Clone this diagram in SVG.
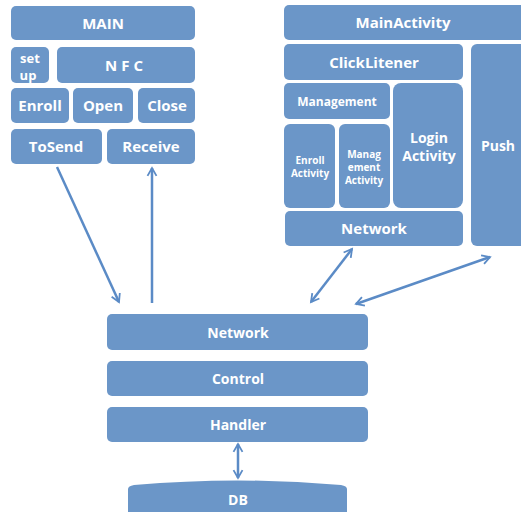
<svg xmlns="http://www.w3.org/2000/svg" width="521" height="512" viewBox="0 0 521 512">
<style>
.b{fill:#6b96c8}
.t{fill:#fff;font-family:"Open Sans","Noto Sans",sans-serif;font-weight:bold;text-anchor:middle;font-size:15px}
.s{font-size:12px}
.xs{font-size:10px}
.c{stroke:#5b8bc6;stroke-width:2.5;fill:none}
</style>
<defs>
<marker id="ah" viewBox="0 0 10 10" refX="8" refY="5" markerWidth="4.5" markerHeight="4.5" orient="auto-start-reverse" markerUnits="strokeWidth">
<path d="M1,1 L8,5 L1,9" fill="none" stroke="#5b8bc6" stroke-width="1.6"/>
</marker>
</defs>
<rect width="521" height="512" fill="#fff"/>
<g id="main"><rect class="b" x="11" y="6" width="184" height="34" rx="5"/><text class="t" x="103" y="29">MAIN</text></g>
<g id="setup"><rect class="b" x="11" y="47" width="38" height="36" rx="5"/><text class="t" x="30" y="63" style="font-size:13px">set</text><text class="t" x="28" y="80" style="font-size:13px">up</text></g>
<g id="nfc"><rect class="b" x="57" y="47" width="138" height="36" rx="5"/><text class="t" x="126" y="71" letter-spacing="4">NFC</text></g>
<g id="enroll"><rect class="b" x="11" y="88" width="58" height="35" rx="5"/><text class="t" x="40" y="111">Enroll</text></g>
<g id="open"><rect class="b" x="73" y="88" width="60" height="35" rx="5"/><text class="t" x="103" y="111">Open</text></g>
<g id="close"><rect class="b" x="138" y="88" width="57" height="35" rx="5"/><text class="t" x="167" y="111">Close</text></g>
<g id="tosend"><rect class="b" x="11" y="129" width="91" height="35" rx="5"/><text class="t" x="56" y="152">ToSend</text></g>
<g id="receive"><rect class="b" x="107" y="129" width="88" height="35" rx="5"/><text class="t" x="151" y="152">Receive</text></g>

<g id="mainactivity"><rect class="b" x="284" y="5" width="245" height="35" rx="5"/><text class="t" x="403" y="28">MainActivity</text></g>
<g id="clicklitener"><rect class="b" x="284" y="44" width="179" height="36" rx="5"/><text class="t" x="374" y="68">ClickLitener</text></g>
<g id="push"><rect class="b" x="471" y="44" width="58" height="202" rx="6"/><text class="t" x="498" y="151" style="font-size:14px">Push</text></g>
<g id="management"><rect class="b" x="284" y="83" width="106" height="36" rx="5"/><text class="t s" x="337" y="106">Management</text></g>
<g id="login"><rect class="b" x="393" y="83" width="70" height="125" rx="8"/><text class="t" x="429" y="143" style="font-size:14px">Login</text><text class="t" x="429" y="161" style="font-size:14px">Activity</text></g>
<g id="enrollact"><rect class="b" x="284" y="124" width="51" height="84" rx="6"/><text class="t xs" x="310" y="164">Enroll</text><text class="t xs" x="310" y="177">Activity</text></g>
<g id="mgmtact"><rect class="b" x="339" y="124" width="51" height="84" rx="6"/><text class="t xs" x="364" y="158">Manag</text><text class="t xs" x="364" y="171">ement</text><text class="t xs" x="364" y="184">Activity</text></g>
<g id="network2"><rect class="b" x="285" y="211" width="178" height="35" rx="5"/><text class="t" x="374" y="234">Network</text></g>

<g id="network"><rect class="b" x="107" y="314" width="261" height="36" rx="5"/><text class="t" x="238" y="338" style="font-size:14px">Network</text></g>
<g id="control"><rect class="b" x="107" y="361" width="261" height="35" rx="5"/><text class="t" x="238" y="384" style="font-size:14px">Control</text></g>
<g id="handler"><rect class="b" x="107" y="407" width="261" height="35" rx="5"/><text class="t" x="238" y="430" style="font-size:14px">Handler</text></g>
<g id="db"><path class="b" d="M128,512 L128,489 Q128,486 134,485 Q238,476 341,485 Q347,486 347,489 L347,512 Z"/><text class="t" x="238" y="505" style="font-size:14px">DB</text></g>

<g id="connectors">
<line class="c" x1="57" y1="167" x2="119" y2="302" marker-end="url(#ah)"/>
<line class="c" x1="152" y1="303" x2="152" y2="168" marker-end="url(#ah)"/>
<line class="c" x1="352" y1="249" x2="311" y2="302" marker-start="url(#ah)" marker-end="url(#ah)"/>
<line class="c" x1="490" y1="257" x2="356" y2="304" marker-start="url(#ah)" marker-end="url(#ah)"/>
<line class="c" x1="238" y1="444" x2="238" y2="478" marker-start="url(#ah)" marker-end="url(#ah)"/>
</g>
</svg>
